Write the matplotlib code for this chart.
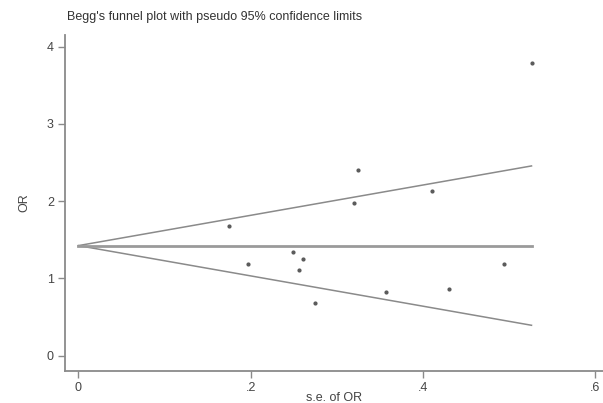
import numpy as np
import matplotlib
matplotlib.use("Agg")
import matplotlib.pyplot as plt

plt.rcParams['font.family'] = ['Liberation Sans', 'DejaVu Sans']

# study standard errors and odds ratios
se = [0.526, 0.410, 0.494, 0.430, 0.324, 0.320, 0.175, 0.249, 0.261, 0.197, 0.256, 0.357, 0.275]
odds = [3.785, 2.13, 1.19, 0.86, 2.40, 1.97, 1.68, 1.34, 1.25, 1.19, 1.11, 0.82, 0.68]
pooled_or = 1.425
se_max = 0.526
xticks = [0, 0.2, 0.4, 0.6]
xtick_labels = ['0', '.2', '.4', '.6']
yticks = [0, 1, 2, 3, 4]

gray = '#8a8a8a'
text_col = '#444444'

fig = plt.figure(figsize=(6.03, 4.03), dpi=100)
ax = fig.add_axes([0.1078, 0.0801, 0.8922, 0.833])

s = np.array([0, se_max])
ax.plot(s, pooled_or + 1.96 * s, color=gray, lw=1.1)
ax.plot(s, pooled_or - 1.96 * s, color=gray, lw=1.1)
ax.plot(s, [pooled_or, pooled_or], color='#9a9a9a', lw=2.0)
ax.scatter(se, odds, s=4, color='#5a5a5a', zorder=3)

ax.set_xlim(-0.0156, 0.609)
ax.set_ylim(-0.194, 4.15)
ax.set_xticks(xticks)
ax.set_xticklabels(xtick_labels)
ax.set_yticks(yticks)

for side in ['top', 'right']:
    ax.spines[side].set_visible(False)
for side in ['left', 'bottom']:
    ax.spines[side].set_color(gray)
    ax.spines[side].set_linewidth(1.3)
ax.tick_params(direction='out', length=5, width=1, color=gray, labelsize=9,
               labelcolor=text_col, pad=3)

ax.set_ylabel('OR', fontsize=9, color=text_col, labelpad=12)
ax.set_xlabel('s.e. of OR', fontsize=9, color=text_col, labelpad=-1)
fig.text(0.111, 0.958, "Begg's funnel plot with pseudo 95% confidence limits",
         fontsize=9, color='#333333', va='center', ha='left')

fig.savefig('out.png', dpi=100)
